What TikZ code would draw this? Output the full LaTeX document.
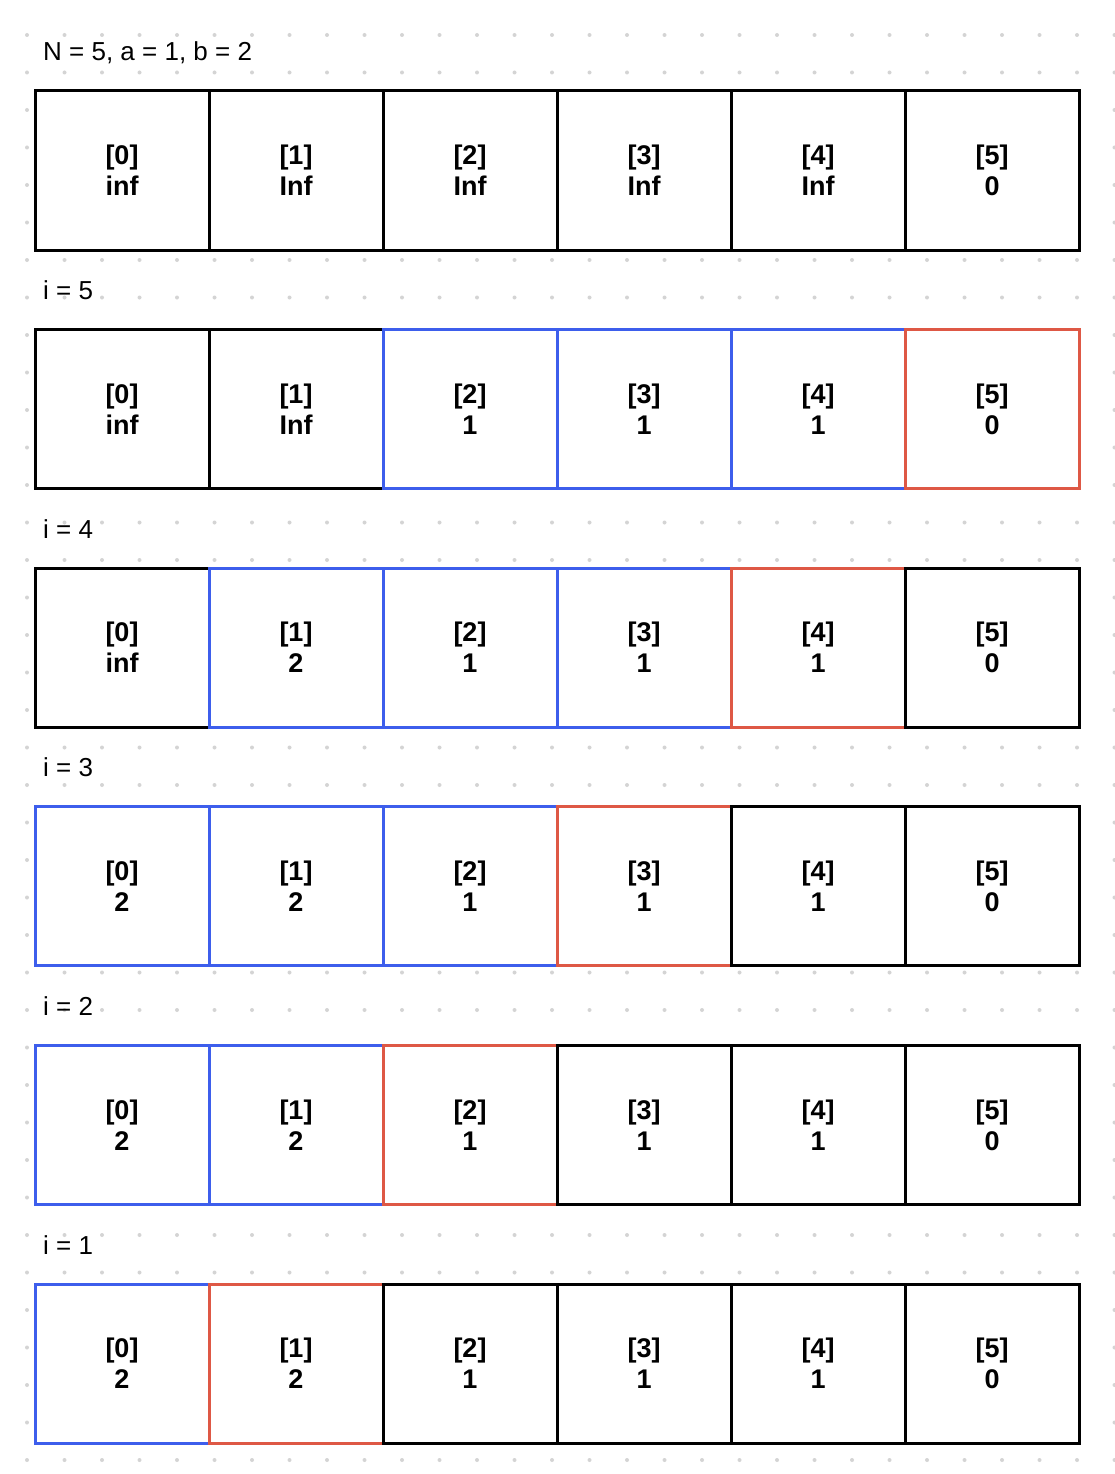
\documentclass[tikz,border=0pt]{standalone}
\usepackage{fontspec}
\setmainfont{Liberation Sans}
\definecolor{dotc}{RGB}{212,212,212}
\definecolor{cblue}{RGB}{61,94,236}
\definecolor{cred}{RGB}{222,88,69}
\tikzset{
  cell/.style={rectangle, fill=white, line width=3pt, minimum width=174pt, minimum height=159pt,
    inner sep=0pt, align=center, font=\fontsize{27}{31}\selectfont\bfseries},
  lbl/.style={anchor=base west, inner sep=0pt, font=\fontsize{26}{30}\selectfont}
}
\newcommand{\mkcell}[4]{\node[cell,draw=#3] (r#1c#2) at ({122+174*#2},{170.5+238.6*#1}) {[#2]\\#4};}
\begin{document}
\begin{tikzpicture}[x=1pt,y=-1pt]
\fill[white] (0,0) rectangle (1114,1474);
\useasboundingbox (0,0) rectangle (1114,1474);
\foreach \i in {0,...,29} \foreach \j in {-1,...,38} \fill[dotc] ({27+37.5*\i},{35+37.5*\j}) circle (2pt);
% labels
\node[lbl] (l0) at (43,61) {N = 5, a = 1, b = 2};
\node[lbl] (l1) at (43,{61+238.6}) {i = 5};
\node[lbl] (l2) at (43,{61+238.6*2}) {i = 4};
\node[lbl] (l3) at (43,{61+238.6*3}) {i = 3};
\node[lbl] (l4) at (43,{61+238.6*4}) {i = 2};
\node[lbl] (l5) at (43,{61+238.6*5}) {i = 1};
% row 0
\mkcell{0}{0}{black}{inf}
\mkcell{0}{1}{black}{Inf}
\mkcell{0}{2}{black}{Inf}
\mkcell{0}{3}{black}{Inf}
\mkcell{0}{4}{black}{Inf}
\mkcell{0}{5}{black}{0}
% row 1: i=5
\mkcell{1}{0}{black}{inf}
\mkcell{1}{1}{black}{Inf}
\mkcell{1}{2}{cblue}{1}
\mkcell{1}{3}{cblue}{1}
\mkcell{1}{4}{cblue}{1}
\mkcell{1}{5}{cred}{0}
% row 2: i=4
\mkcell{2}{0}{black}{inf}
\mkcell{2}{1}{cblue}{2}
\mkcell{2}{2}{cblue}{1}
\mkcell{2}{3}{cblue}{1}
\mkcell{2}{4}{cred}{1}
\mkcell{2}{5}{black}{0}
% row 3: i=3
\mkcell{3}{0}{cblue}{2}
\mkcell{3}{1}{cblue}{2}
\mkcell{3}{2}{cblue}{1}
\mkcell{3}{3}{cred}{1}
\mkcell{3}{4}{black}{1}
\mkcell{3}{5}{black}{0}
% row 4: i=2
\mkcell{4}{0}{cblue}{2}
\mkcell{4}{1}{cblue}{2}
\mkcell{4}{2}{cred}{1}
\mkcell{4}{3}{black}{1}
\mkcell{4}{4}{black}{1}
\mkcell{4}{5}{black}{0}
% row 5: i=1
\mkcell{5}{0}{cblue}{2}
\mkcell{5}{1}{cred}{2}
\mkcell{5}{2}{black}{1}
\mkcell{5}{3}{black}{1}
\mkcell{5}{4}{black}{1}
\mkcell{5}{5}{black}{0}
\end{tikzpicture}
\end{document}
